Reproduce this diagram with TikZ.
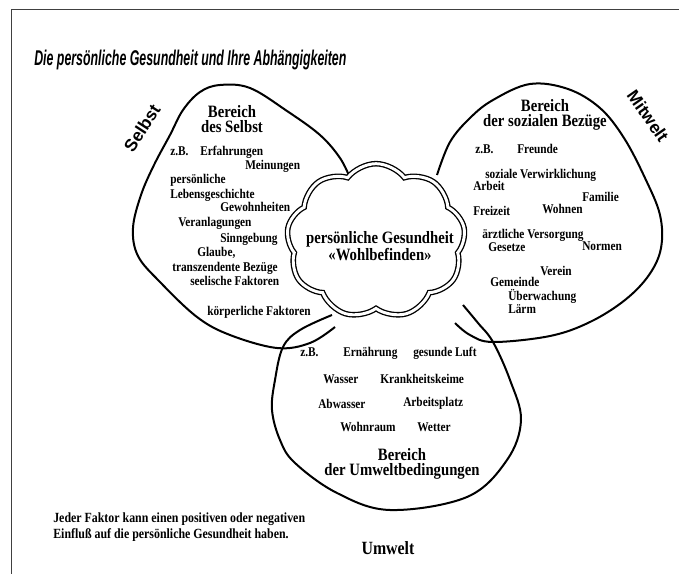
\documentclass[tikz,border=0pt]{standalone}
\usepackage{fontspec}
\newfontfamily\condfont[FakeStretch=0.85]{Liberation Serif}
\newfontfamily\titlefont[FakeStretch=0.58]{Liberation Sans}
\newfontfamily\sidefont{Liberation Sans}
\usetikzlibrary{shapes.symbols}

\begin{document}
\begin{tikzpicture}[
x=0.75pt,y=-0.75pt,
item/.style={
  anchor=west,
  inner sep=0pt,
  text height=7pt,
  text depth=2pt,
  font=\condfont\bfseries\fontsize{10}{11}\selectfont
  },
head/.style={
  align=center,
  inner sep=0pt,
  font=\condfont\bfseries\fontsize{13}{11.5}\selectfont
  },
side/.style={
  inner sep=0pt,
  font=\sidefont\bfseries\fontsize{13}{14}\selectfont
  },
area/.style={
  line width=1.5pt
  },
frame/.style={
  line width=1.1pt,
  black!75
  }
]
\useasboundingbox (0,0) rectangle (679,574);
\draw[frame] (679,9.5) -- (11.5,9.5) -- (11.5,574);

% title
\node[anchor=west,inner sep=0pt,font=\titlefont\bfseries\itshape\fontsize{16}{17}\selectfont] (title) at (34,60)
  {Die persönliche Gesundheit und Ihre Abhängigkeiten};

% the three areas
\draw[area] plot[smooth,tension=0.6] coordinates {
  (350,178) (340,158) (320,135) (287,111) (250,88) (220,85) (200,92) (183,110)
  (170,135) (154,165) (141,195) (133,228) (138,256) (160,282) (197,317)
  (230,335) (277,348) (310,343) (335,327)};
\draw[area] plot[smooth,tension=0.6] coordinates {
  (437,175) (450,142) (470,118) (493,100) (530,84) (568,89) (600,108) (624,138)
  (645,178) (660,215) (661,248) (649,275) (625,300) (590,322) (550,336)
  (493,342) (470,335) (455,323)};
\draw[area] plot[smooth,tension=0.6] coordinates {
  (332,315) (300,330) (283,347) (275,380) (272,410) (280,440) (295,463)
  (337,493) (390,510) (467,497) (507,460) (521,420) (510,380) (493,342)
  (478,323) (463,305)};

% cloud in the middle
\node[cloud,cloud puffs=9,cloud puff arc=105,cloud ignores aspect,draw,double,
  line width=1pt,double distance=2.2pt,minimum width=134pt,minimum height=116pt,
  inner sep=0pt] (wolke) at (376,241) {};
\node[head,font=\condfont\bfseries\fontsize{13}{12.5}\selectfont] (wohl) at (380,246)
  {persönliche Gesundheit\\«Wohlbefinden»};

% side labels
\node[side,rotate=57] (selbst) at (142,128) {Selbst};
\node[side,rotate=-55] (mitwelt) at (648,116) {Mitwelt};
\node[inner sep=0pt,font=\condfont\bfseries\fontsize{14}{15}\selectfont] (umwelt) at (388,548) {Umwelt};

% headings
\node[head] (kopf-selbst) at (232,119) {Bereich\\des Selbst};
\node[head] (kopf-mitwelt) at (545,115) {Bereich\\der sozialen Bezüge};
\node[head] (kopf-umwelt) at (402,464) {Bereich\\der Umweltbedingungen};

% factors
\foreach \px/\py/\txt [count=\i] in {170/152/z.B., 200/152/Erfahrungen, 245/166/Meinungen,
  170/180/persönliche, 170/195/Lebensgeschichte, 220/208/Gewohnheiten,
  178/223/Veranlagungen, 220/239/Sinngebung, 197/253/{Glaube,},
  172/268/transzendente Bezüge, 190/282/seelische Faktoren, 207/312/körperliche Faktoren}
  \node[item] (selbst-\i) at (\px,\py) {\txt};
\foreach \px/\py/\txt [count=\i] in {475/150/z.B., 517/150/Freunde,
  485/175/soziale Verwirklichung, 473/187/Arbeit, 582/198/Familie, 473/212/Freizeit,
  542/210/Wohnen, 482/235/ärztliche Versorgung, 488/248/Gesetze, 582/247/Normen,
  540/272/Verein, 490/283/Gemeinde, 508/297/Überwachung, 508/310/Lärm}
  \node[item] (mitwelt-\i) at (\px,\py) {\txt};
\foreach \px/\py/\txt [count=\i] in {300/353/z.B., 343/353/Ernährung, 413/353/gesunde Luft,
  323/380/Wasser, 380/380/Krankheitskeime, 318/405/Abwasser, 403/403/Arbeitsplatz,
  340/428/Wohnraum, 417/428/Wetter}
  \node[item] (umwelt-\i) at (\px,\py) {\txt};

% note
\node[anchor=north west,align=left,inner sep=0pt,font=\condfont\bfseries\fontsize{10.5}{12}\selectfont]
  (hinweis) at (53,513)
  {Jeder Faktor kann einen positiven oder negativen\\Einfluß auf die persönliche Gesundheit haben.};
\end{tikzpicture}
\end{document}
